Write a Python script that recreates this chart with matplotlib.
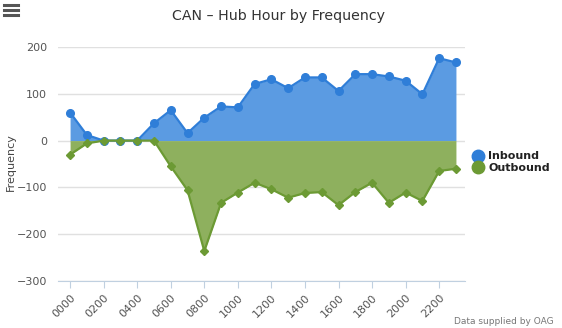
import numpy as np
import matplotlib.pyplot as plt
from matplotlib.lines import Line2D

# hourly values
hours = ['0000', '0100', '0200', '0300', '0400', '0500', '0600', '0700',
         '0800', '0900', '1000', '1100', '1200', '1300', '1400', '1500',
         '1600', '1700', '1800', '1900', '2000', '2100', '2200', '2300']
inbound = [60, 12, 0, 0, 0, 37, 65, 16, 49, 73, 71, 121, 131, 112,
           135, 135, 106, 142, 142, 137, 128, 99, 176, 167]
outbound = [-30, -6, 0, 0, 0, 0, -55, -106, -236, -133, -111, -90, -104, -122,
            -112, -110, -138, -110, -90, -133, -111, -129, -65, -60]

blue_line, blue_fill = '#2f7ed8', '#5b9be2'
green_line, green_fill = '#6c9a34', '#8eb05e'

fig = plt.figure(figsize=(5.62, 3.28), dpi=100)
W, H = 562, 328
ax = fig.add_axes([58 / W, (H - 281) / H, (465 - 58) / W, (281 - 47) / H])

x = np.arange(len(hours))
ax.fill_between(x, 0, inbound, color=blue_fill, lw=0, zorder=2)
ax.fill_between(x, 0, outbound, color=green_fill, lw=0, zorder=2)
ax.plot(x, inbound, color=blue_line, lw=1.6, marker='o', ms=5.5, zorder=4)
ax.plot(x, outbound, color=green_line, lw=1.6, marker='D', ms=4, zorder=4)

ax.set_xlim(-0.72, 23.54)
ax.set_ylim(-300, 200)
ax.set_yticks([-300, -200, -100, 0, 100, 200])
ax.yaxis.grid(True, color='#e0e0e0', lw=1)
ax.set_axisbelow(True)
ax.tick_params(axis='y', length=0, labelsize=8, labelcolor='#555555', pad=8)

ax.set_xticks(x[::2])
ax.set_xticklabels(hours[::2], rotation=45, ha='right', rotation_mode='anchor',
                   fontsize=8, color='#555555')
ax.tick_params(axis='x', length=5, color='#c0d0e0', pad=3)

for s in ['top', 'right', 'left']:
    ax.spines[s].set_visible(False)
ax.spines['bottom'].set_color('#c0d0e0')

fig.text(11 / W, 1 - 162 / H, 'Frequency', rotation=90, ha='center',
         va='center', fontsize=8, color='#444444')
fig.text(278 / W, 1 - 16 / H, 'CAN \u2013 Hub Hour by Frequency', ha='center',
         va='center', fontsize=10.2, color='#333333')

# legend
handles = [Line2D([], [], ls='none', marker='o', ms=9, color=blue_line),
           Line2D([], [], ls='none', marker='o', ms=9, color=green_line)]
fig.legend(handles, ['Inbound', 'Outbound'], loc='center left',
           bbox_to_anchor=(464 / W, 1 - 162 / H), frameon=False,
           prop={'weight': 'bold', 'size': 8}, handletextpad=0.3,
           labelspacing=0.1, handlelength=1.2, borderpad=0.2,
           labelcolor='#222222')

fig.text(554 / W, 1 - 321 / H, 'Data supplied by OAG', ha='right', va='center',
         fontsize=6.5, color='#777777')

# menu icon
for yy in [5, 10, 15]:
    fig.add_artist(Line2D([4 / W, 18 / W], [1 - yy / H, 1 - yy / H],
                          color='#555555', lw=2.2))

fig.savefig('out.png', dpi=100)
